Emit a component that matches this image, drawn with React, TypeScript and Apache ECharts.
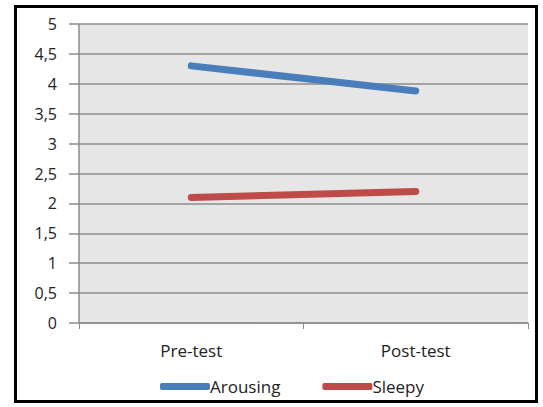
import React, { useEffect, useRef } from "react";
import * as echarts from "echarts";

const categories = ["Pre-test", "Post-test"];
const arousing = [4.3, 3.88];
const sleepy = [2.1, 2.2];
const yMin = 0;
const yMax = 5;
const yStep = 0.5;

export default function App() {
  const ref = useRef<HTMLDivElement>(null);
  useEffect(() => {
    if (!ref.current) return;
    const chart = echarts.init(ref.current, undefined, { renderer: "svg" });
    const font = "'Open Sans', 'Noto Sans', sans-serif";
    chart.setOption({
      animation: false,
      backgroundColor: "#ffffff",
      graphic: [
        {
          type: "rect",
          shape: { x: 15.5, y: 6.5, width: 521, height: 395 },
          style: { fill: "none", stroke: "#000000", lineWidth: 3 },
          z: 100,
        },
      ],
      grid: {
        left: 79,
        right: 15,
        top: 24,
        bottom: 84,
        show: true,
        backgroundColor: "#e6e6e6",
        borderWidth: 0,
      },
      legend: {
        bottom: 7,
        left: 155,
        itemWidth: 50,
        itemHeight: 7,
        itemGap: 42,
        icon: "roundRect",
        textStyle: {
          fontFamily: font,
          fontSize: 17,
          color: "#222222",
          padding: [0, 0, 0, -5],
        },
        data: ["Arousing", "Sleepy"],
      },
      xAxis: {
        type: "category",
        data: categories,
        boundaryGap: true,
        axisLine: { lineStyle: { color: "#8c8c8c", width: 1.5 } },
        axisTick: { show: true, length: 6, lineStyle: { color: "#8c8c8c" } },
        axisLabel: {
          margin: 19,
          fontFamily: font,
          fontSize: 17,
          color: "#222222",
        },
      },
      yAxis: {
        type: "value",
        min: yMin,
        max: yMax,
        interval: yStep,
        axisLine: { show: true, lineStyle: { color: "#8c8c8c", width: 1.5 } },
        axisTick: { show: true, length: 10, lineStyle: { color: "#8c8c8c", width: 1.5 } },
        splitLine: { show: true, lineStyle: { color: "#8c8c8c", width: 1.5 } },
        axisLabel: {
          margin: 22,
          fontFamily: font,
          fontSize: 16,
          color: "#222222",
          formatter: (v: number) => String(v).replace(".", ","),
        },
      },
      series: [
        {
          name: "Arousing",
          type: "line",
          data: arousing,
          symbol: "none",
          color: "#4a7ebb",
          lineStyle: { width: 7, cap: "round", color: "#4a7ebb" },
        },
        {
          name: "Sleepy",
          type: "line",
          data: sleepy,
          symbol: "none",
          color: "#be4b48",
          lineStyle: { width: 7, cap: "round", color: "#be4b48" },
        },
      ],
    });
    return () => chart.dispose();
  }, []);
  return (
    <div
      ref={ref}
      style={{ position: "fixed", left: 0, top: 0, width: 543, height: 407 }}
    />
  );
}
